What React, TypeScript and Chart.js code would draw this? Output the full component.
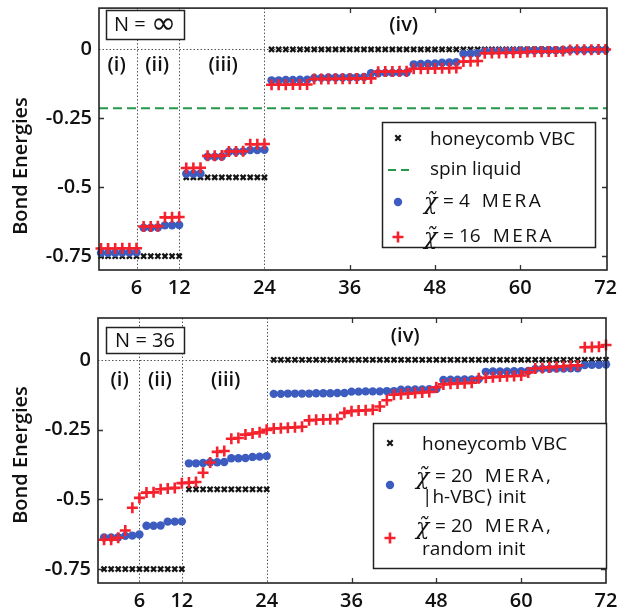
import React, { useEffect, useRef } from 'react';
import { Chart, registerables } from 'chart.js';

Chart.register(...registerables);

// ---------------- data ----------------
const X_TICKS = [6, 12, 24, 36, 48, 60, 72];
const Y_TICKS = [-0.75, -0.5, -0.25, 0];
const Y_TICK_LABELS = ['-0.75', '-0.5', '-0.25', '0'];
const REGION_DIVIDERS = [6, 12, 24];
const REGION_LABELS = ['(i)', '(ii)', '(iii)', '(iv)'];
const REGION_LABEL_X = [3.2, 8.9, 18.2, 43.6];
const SPIN_LIQUID = -0.213;

// N = infinity panel
const VBC_INF = [
  -0.75, -0.75, -0.75, -0.75, -0.75, -0.75, -0.75, -0.75, -0.75, -0.75, -0.75, -0.75,
  -0.464, -0.464, -0.464, -0.464, -0.464, -0.464, -0.464, -0.464, -0.464, -0.464, -0.464, -0.464,
  0, 0, 0, 0, 0, 0, 0, 0, 0, 0, 0, 0,
  0, 0, 0, 0, 0, 0, 0, 0, 0, 0, 0, 0,
  0, 0, 0, 0, 0, 0, 0, 0, 0, 0, 0, 0,
  0, 0, 0, 0, 0, 0, 0, 0, 0, 0, 0, 0,
];
const MERA4_INF = [
  -0.738, -0.738, -0.738, -0.737, -0.737, -0.736,
  -0.647, -0.647, -0.646, -0.638, -0.638, -0.637,
  -0.451, -0.451, -0.450,
  -0.389, -0.389, -0.388, -0.371, -0.371, -0.370, -0.365, -0.365, -0.364,
  -0.112, -0.112, -0.111, -0.111, -0.110, -0.110,
  -0.103, -0.103, -0.102, -0.102, -0.102, -0.101, -0.101, -0.100,
  -0.086, -0.086, -0.085, -0.085, -0.084, -0.084,
  -0.054, -0.053, -0.052, -0.051, -0.048, -0.047, -0.046,
  -0.016, -0.015, -0.014,
  -0.006, -0.006, -0.005, -0.005, -0.005, -0.004, -0.004, -0.004, -0.003, -0.003, -0.003, -0.003,
  -0.002, -0.002, -0.002, -0.001, -0.001, -0.001,
];
const MERA16_INF = [
  -0.722, -0.722, -0.722, -0.721, -0.721, -0.721,
  -0.642, -0.642, -0.641, -0.609, -0.609, -0.608,
  -0.430, -0.430, -0.429,
  -0.386, -0.386, -0.385, -0.370, -0.370, -0.369, -0.344, -0.344, -0.343,
  -0.128, -0.128, -0.128, -0.127, -0.127, -0.127,
  -0.107, -0.107, -0.107, -0.106, -0.106, -0.106, -0.105, -0.105, -0.105,
  -0.081, -0.080, -0.080, -0.079, -0.079,
  -0.070, -0.070, -0.069, -0.069, -0.068, -0.068, -0.067,
  -0.044, -0.043, -0.042,
  -0.014, -0.013, -0.013, -0.012, -0.012, -0.011,
  -0.009, -0.008, -0.008, -0.007, -0.007, -0.006,
  -0.002, -0.001, -0.001, -0.001, 0, 0,
];

// N = 36 panel
const VBC_36 = [
  -0.75, -0.75, -0.75, -0.75, -0.75, -0.75, -0.75, -0.75, -0.75, -0.75, -0.75, -0.75,
  -0.464, -0.464, -0.464, -0.464, -0.464, -0.464, -0.464, -0.464, -0.464, -0.464, -0.464, -0.464,
  0, 0, 0, 0, 0, 0, 0, 0, 0, 0, 0, 0,
  0, 0, 0, 0, 0, 0, 0, 0, 0, 0, 0, 0,
  0, 0, 0, 0, 0, 0, 0, 0, 0, 0, 0, 0,
  0, 0, 0, 0, 0, 0, 0, 0, 0, 0, 0, 0,
];
const MERA20_VBC = [
  -0.637, -0.637, -0.636, -0.631, -0.630, -0.626,
  -0.595, -0.595, -0.594, -0.580, -0.580, -0.579,
  -0.371, -0.371, -0.370, -0.367, -0.367, -0.366,
  -0.353, -0.353, -0.352, -0.348, -0.347, -0.345,
  -0.122, -0.122, -0.121, -0.121, -0.121, -0.121, -0.120, -0.120, -0.120, -0.119, -0.119,
  -0.114, -0.114, -0.113, -0.113, -0.113, -0.112, -0.112,
  -0.107, -0.107, -0.106, -0.106, -0.105, -0.105,
  -0.072, -0.071, -0.071, -0.070, -0.070, -0.069,
  -0.043, -0.042, -0.042, -0.042, -0.041, -0.041, -0.040,
  -0.033, -0.032, -0.032, -0.031, -0.031, -0.030, -0.030,
  -0.019, -0.018, -0.018, -0.017,
];
const MERA20_RANDOM = [
  -0.645, -0.645, -0.638, -0.612, -0.530, -0.495,
  -0.476, -0.475, -0.464, -0.461, -0.459, -0.442,
  -0.440, -0.438, -0.405, -0.368, -0.330, -0.327,
  -0.283, -0.280, -0.268, -0.264, -0.260, -0.251,
  -0.246, -0.245, -0.243, -0.242, -0.240,
  -0.217, -0.215, -0.214, -0.213, -0.212,
  -0.190, -0.184, -0.182, -0.181, -0.179, -0.167, -0.145,
  -0.125, -0.123, -0.121, -0.119, -0.117, -0.115,
  -0.098, -0.088, -0.086, -0.085, -0.084, -0.082,
  -0.066, -0.064, -0.062, -0.060, -0.059, -0.058, -0.056,
  -0.045, -0.031, -0.029, -0.027, -0.025, -0.023, -0.021, -0.020,
  0.045, 0.046, 0.047, 0.053,
];

// ---------------- styles ----------------
const FONT = '"Open Sans", "DejaVu Sans", sans-serif';
const BLACK = '#151515';
const BLUE = '#3d5cbf';
const RED = '#f5222d';
const GREEN = '#25994a';

type LegendItem = { kind: 'vbc' | 'spin' | 'blue' | 'red'; y: number; lines: { text: string; chi?: boolean; dy: number }[] };

type PanelCfg = {
  height: number;
  pad: { top: number; right: number };
  yAxisWidth: number;
  xMin: number;
  xMax: number;
  title: string;
  titleBig?: string;
  titleBox: { x: number; y: number; w: number; h: number };
  regionY: number;
  regionIvY: number;
  yTitleCenter: number;
  series: { vbc: number[]; blue: number[]; red: number[] };
  spin: boolean;
  legendBox: { x: number; y: number; w: number; h: number };
  legendItems: LegendItem[];
  markerX: number;
  textX: number;
};

function drawMarker(ctx: CanvasRenderingContext2D, kind: string, x: number, y: number) {
  ctx.save();
  if (kind === 'vbc') {
    ctx.strokeStyle = BLACK; ctx.lineWidth = 2.2;
    const r = 2.7;
    ctx.beginPath(); ctx.moveTo(x - r, y - r); ctx.lineTo(x + r, y + r);
    ctx.moveTo(x - r, y + r); ctx.lineTo(x + r, y - r); ctx.stroke();
  } else if (kind === 'spin') {
    ctx.strokeStyle = GREEN; ctx.lineWidth = 2; ctx.setLineDash([8, 5]);
    ctx.beginPath(); ctx.moveTo(x - 10, y); ctx.lineTo(x + 14, y); ctx.stroke();
  } else if (kind === 'blue') {
    ctx.fillStyle = BLUE; ctx.beginPath(); ctx.arc(x, y, 4.2, 0, Math.PI * 2); ctx.fill();
  } else {
    ctx.strokeStyle = RED; ctx.lineWidth = 2.6;
    const r = 5.5;
    ctx.beginPath(); ctx.moveTo(x - r, y); ctx.lineTo(x + r, y);
    ctx.moveTo(x, y - r); ctx.lineTo(x, y + r); ctx.stroke();
  }
  ctx.restore();
}

function drawLegendLine(ctx: CanvasRenderingContext2D, x: number, y: number, text: string, chi: boolean) {
  ctx.save();
  ctx.fillStyle = '#111';
  ctx.textBaseline = 'middle';
  ctx.textAlign = 'left';
  if (chi) {
    ctx.font = `italic 22px "DejaVu Serif", serif`;
    ctx.fillText('\u03C7\u0303', x - 6, y + 1);
    const m = text.match(/^=\s*(\d+)\s+(.*)$/);
    ctx.font = `19px ${FONT}`;
    if (m) {
      ctx.fillText('=', x + 13, y);
      ctx.fillText(m[1], x + 29, y);
      const nw = ctx.measureText(m[1]).width;
      (ctx as any).letterSpacing = '2.5px';
      ctx.fillText(m[2], x + 29 + nw + 12, y);
    }
  } else {
    ctx.font = `19px ${FONT}`;
    ctx.fillText(text, x, y);
  }
  ctx.restore();
}

function makeDecor(cfg: PanelCfg) {
  return {
    id: 'decor',
    beforeDatasetsDraw(chart: any) {
      const { ctx, chartArea: a, scales } = chart;
      const x = scales.x, y = scales.y;
      ctx.save();
      ctx.strokeStyle = '#555';
      ctx.lineWidth = 1;
      ctx.setLineDash([1.5, 2]);
      for (const v of REGION_DIVIDERS) {
        const px = Math.round(x.getPixelForValue(v)) + 0.5;
        ctx.beginPath(); ctx.moveTo(px, a.top); ctx.lineTo(px, a.bottom); ctx.stroke();
      }
      const py0 = Math.round(y.getPixelForValue(0)) + 0.5;
      ctx.beginPath(); ctx.moveTo(a.left, py0); ctx.lineTo(a.right, py0); ctx.stroke();
      ctx.setLineDash([]);
      ctx.strokeStyle = '#333';
      ctx.lineWidth = 1.3;
      const T = 5;
      for (const v of X_TICKS) {
        if (REGION_DIVIDERS.includes(v) || v === 72) continue;
        const px = Math.round(x.getPixelForValue(v)) + 0.5;
        ctx.beginPath();
        ctx.moveTo(px, a.top); ctx.lineTo(px, a.top + T);
        ctx.moveTo(px, a.bottom); ctx.lineTo(px, a.bottom - T);
        ctx.stroke();
      }
      for (const v of Y_TICKS) {
        if (v === 0) continue;
        const py = Math.round(y.getPixelForValue(v)) + 0.5;
        ctx.beginPath();
        ctx.moveTo(a.left, py); ctx.lineTo(a.left + T, py);
        ctx.moveTo(a.right, py); ctx.lineTo(a.right - T, py);
        ctx.stroke();
      }
      ctx.restore();
    },
    afterDatasetsDraw(chart: any) {
      const { ctx, chartArea: a, scales } = chart;
      const x = scales.x;
      ctx.save();
      // frame
      ctx.strokeStyle = '#222';
      ctx.lineWidth = 1.6;
      ctx.strokeRect(a.left, a.top, a.right - a.left, a.bottom - a.top);
      // region labels
      ctx.fillStyle = '#111';
      ctx.font = `600 20px ${FONT}`;
      ctx.textAlign = 'center';
      ctx.textBaseline = 'middle';
      REGION_LABELS.forEach((t, i) => {
        const py = i === 3 ? cfg.regionIvY : cfg.regionY;
        ctx.fillText(t, x.getPixelForValue(REGION_LABEL_X[i]), py);
      });
      // N box
      const b = cfg.titleBox;
      ctx.fillStyle = '#fff';
      ctx.fillRect(b.x, b.y, b.w, b.h);
      ctx.strokeStyle = '#222';
      ctx.lineWidth = 1.5;
      ctx.strokeRect(b.x + 0.5, b.y + 0.5, b.w, b.h);
      ctx.fillStyle = '#111';
      if (cfg.titleBig) {
        ctx.textAlign = 'left';
        ctx.font = `20px ${FONT}`;
        const w1 = ctx.measureText(cfg.title).width;
        ctx.font = `30px "DejaVu Sans", sans-serif`;
        const w2 = ctx.measureText(cfg.titleBig).width;
        const sx = b.x + b.w / 2 - (w1 + w2) / 2;
        ctx.font = `20px ${FONT}`;
        ctx.fillText(cfg.title, sx, b.y + b.h / 2 + 1);
        ctx.font = `30px "DejaVu Sans", sans-serif`;
        ctx.fillText(cfg.titleBig, sx + w1, b.y + b.h / 2 + 1);
        ctx.textAlign = 'center';
      } else {
        ctx.font = `20px ${FONT}`;
        ctx.fillText(cfg.title, b.x + b.w / 2, b.y + b.h / 2 + 1);
      }
      // legend
      const l = cfg.legendBox;
      ctx.fillStyle = '#fff';
      ctx.fillRect(l.x, l.y, l.w, l.h);
      ctx.strokeStyle = '#222';
      ctx.lineWidth = 1.5;
      ctx.strokeRect(l.x + 0.5, l.y + 0.5, l.w, l.h);
      for (const it of cfg.legendItems) {
        drawMarker(ctx, it.kind, cfg.markerX, it.y);
        for (const ln of it.lines) drawLegendLine(ctx, cfg.textX, it.y + ln.dy, ln.text, !!ln.chi);
      }
      // y title
      ctx.save();
      ctx.translate(21, cfg.yTitleCenter);
      ctx.rotate(-Math.PI / 2);
      ctx.fillStyle = '#111';
      ctx.font = `600 20px ${FONT}`;
      ctx.textAlign = 'center';
      ctx.textBaseline = 'middle';
      ctx.fillText('Bond Energies', 0, 0);
      ctx.restore();
      ctx.restore();
    },
  };
}

function buildConfig(cfg: PanelCfg): any {
  const pts = (arr: number[]) => arr.map((v, i) => ({ x: i + 1, y: v }));
  const datasets: any[] = [
    {
      label: 'red', data: pts(cfg.series.red), pointStyle: 'cross', pointRadius: 5.5,
      pointBorderWidth: 2.6, borderColor: RED, backgroundColor: RED, showLine: false, clip: false, order: 0,
    },
    {
      label: 'blue', data: pts(cfg.series.blue), pointStyle: 'circle', pointRadius: 4.2,
      pointBorderWidth: 0, borderColor: BLUE, backgroundColor: BLUE, showLine: false, clip: false, order: 1,
    },
    {
      label: 'vbc', data: pts(cfg.series.vbc), pointStyle: 'crossRot', pointRadius: 3.6,
      pointBorderWidth: 2.3, borderColor: BLACK, backgroundColor: BLACK, showLine: false, clip: false, order: 3,
    },
  ];
  if (cfg.spin) {
    datasets.push({
      type: 'line', label: 'spin', data: [{ x: cfg.xMin, y: SPIN_LIQUID }, { x: cfg.xMax, y: SPIN_LIQUID }],
      borderColor: GREEN, borderWidth: 2, borderDash: [9, 5], pointRadius: 0, showLine: true, order: 2,
    });
  }
  return {
    type: 'scatter',
    data: { datasets },
    options: {
      responsive: false,
      animation: false,
      devicePixelRatio: 1,
      layout: { padding: { top: cfg.pad.top, right: cfg.pad.right, left: 0, bottom: 0 } },
      plugins: { legend: { display: false }, tooltip: { enabled: false } },
      scales: {
        x: {
          type: 'linear', min: cfg.xMin, max: cfg.xMax,
          afterBuildTicks: (s: any) => { s.ticks = X_TICKS.map((v) => ({ value: v })); },
          afterFit: (s: any) => { s.height = 30; s.paddingLeft = 0; s.paddingRight = 0; },
          grid: { display: false, drawTicks: false },
          border: { display: false },
          ticks: {
            color: '#111', padding: 6, maxRotation: 0, autoSkip: false,
            font: { family: FONT, size: 20, weight: '600' },
            callback: (v: any) => String(v),
          },
        },
        y: {
          type: 'linear', min: -0.8, max: 0.15,
          afterBuildTicks: (s: any) => { s.ticks = Y_TICKS.map((v) => ({ value: v })); },
          afterFit: (s: any) => { s.width = cfg.yAxisWidth; s.paddingTop = 0; s.paddingBottom = 0; },
          grid: { display: false, drawTicks: false },
          border: { display: false },
          ticks: {
            color: '#111', padding: 7,
            font: { family: FONT, size: 20, weight: '600' },
            callback: (v: any) => { const i = Y_TICKS.indexOf(v); return i >= 0 ? Y_TICK_LABELS[i] : ''; },
          },
        },
      },
    },
    plugins: [makeDecor(cfg)],
  };
}

const TOP_CFG: PanelCfg = {
  height: 300,
  pad: { top: 5, right: 11 },
  yAxisWidth: 99,
  xMin: 0.72,
  xMax: 72.2,
  title: 'N = ',
  titleBig: '\u221E',
  titleBox: { x: 106, y: 10, w: 78, h: 29 },
  regionY: 65,
  regionIvY: 25,
  yTitleCenter: 166,
  series: { vbc: VBC_INF, blue: MERA4_INF, red: MERA16_INF },
  spin: true,
  legendBox: { x: 382, y: 122, w: 213, h: 125 },
  legendItems: [
    { kind: 'vbc', y: 138, lines: [{ text: 'honeycomb VBC', dy: 2 }] },
    { kind: 'spin', y: 170, lines: [{ text: 'spin liquid', dy: 0 }] },
    { kind: 'blue', y: 202, lines: [{ text: '= 4 MERA', chi: true, dy: 0 }] },
    { kind: 'red', y: 237, lines: [{ text: '= 16 MERA', chi: true, dy: 0 }] },
  ],
  markerX: 398,
  textX: 430,
};

const BOTTOM_CFG: PanelCfg = {
  height: 313,
  pad: { top: 18, right: 12 },
  yAxisWidth: 98,
  xMin: 0.14,
  xMax: 72,
  title: 'N = 36',
  titleBox: { x: 106, y: 27, w: 78, h: 26 },
  regionY: 80,
  regionIvY: 36,
  yTitleCenter: 155,
  series: { vbc: VBC_36, blue: MERA20_VBC, red: MERA20_RANDOM },
  spin: false,
  legendBox: { x: 373, y: 123, w: 233, h: 145 },
  legendItems: [
    { kind: 'vbc', y: 143, lines: [{ text: 'honeycomb VBC', dy: 2 }] },
    { kind: 'blue', y: 185, lines: [{ text: '= 20 MERA,', chi: true, dy: -8 }, { text: '|h-VBC\u27E9 init', dy: 13 }] },
    { kind: 'red', y: 238, lines: [{ text: '= 20 MERA,', chi: true, dy: -11 }, { text: 'random init', dy: 12 }] },
  ],
  markerX: 390,
  textX: 422,
};

function Panel({ cfg, top }: { cfg: PanelCfg; top: number }) {
  const ref = useRef<HTMLCanvasElement>(null);
  useEffect(() => {
    const chart = new Chart(ref.current as HTMLCanvasElement, buildConfig(cfg));
    return () => chart.destroy();
  }, [cfg]);
  return (
    <div style={{ position: 'absolute', left: 0, top, width: 618, height: cfg.height }}>
      <canvas ref={ref} width={618} height={cfg.height} style={{ display: 'block', width: 618, height: cfg.height }} />
    </div>
  );
}

export default function App() {
  return (
    <div style={{ position: 'fixed', left: 0, top: 0, width: 618, height: 613, background: '#fff', overflow: 'hidden' }}>
      <Panel cfg={TOP_CFG} top={0} />
      <Panel cfg={BOTTOM_CFG} top={300} />
    </div>
  );
}
